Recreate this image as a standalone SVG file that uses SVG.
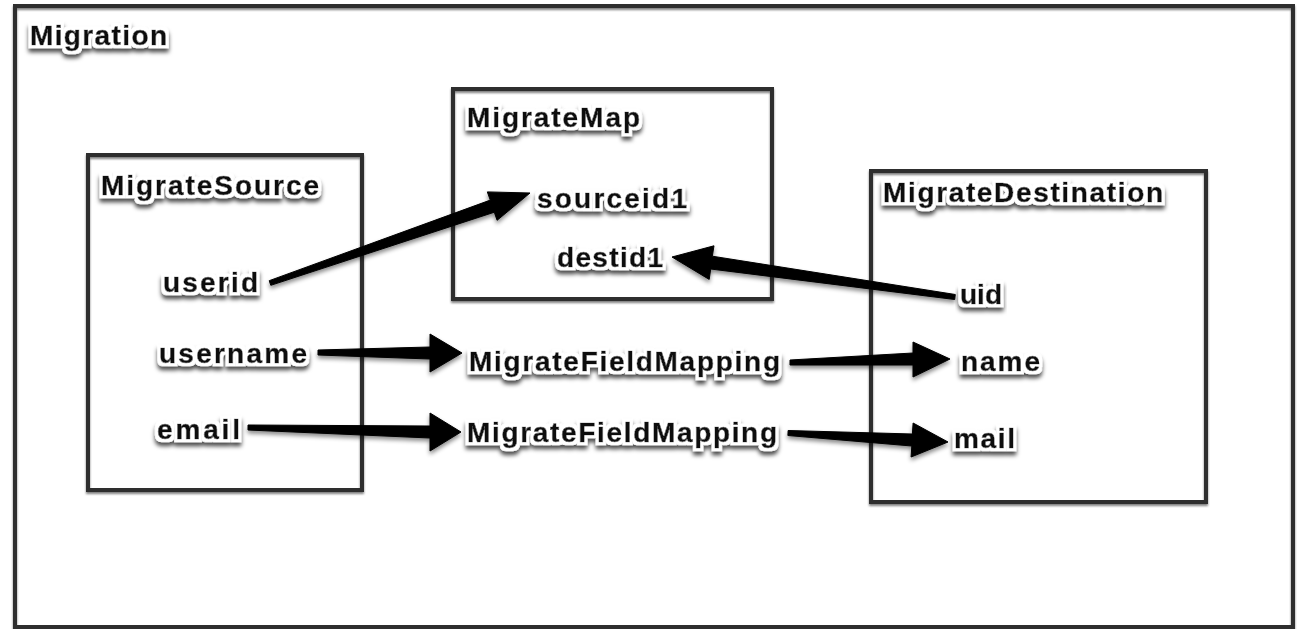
<svg xmlns="http://www.w3.org/2000/svg" width="1297" height="629" viewBox="0 0 1297 629">
  <defs>
    <filter id="halo" x="-10%" y="-40%" width="120%" height="190%">
      <feMorphology in="SourceAlpha" operator="dilate" radius="3" result="d"/>
      <feGaussianBlur in="d" stdDeviation="2.2" result="b"/>
      <feOffset in="b" dx="0" dy="3.5" result="o"/>
      <feFlood flood-color="#000" flood-opacity="0.7"/>
      <feComposite in2="o" operator="in" result="sh"/>
      <feFlood flood-color="#fff"/>
      <feComposite in2="d" operator="in" result="w"/>
      <feGaussianBlur in="SourceGraphic" stdDeviation="0.4" result="sg"/>
      <feMerge>
        <feMergeNode in="sh"/>
        <feMergeNode in="w"/>
        <feMergeNode in="sg"/>
      </feMerge>
    </filter>
    <filter id="boxsh" x="-5%" y="-5%" width="110%" height="110%">
      <feDropShadow dx="0" dy="2" stdDeviation="1.2" flood-color="#000" flood-opacity="0.5"/>
    </filter>
    <filter id="arrsh" x="-10%" y="-30%" width="120%" height="160%">
      <feDropShadow dx="0" dy="3" stdDeviation="2.2" flood-color="#000" flood-opacity="0.45"/>
    </filter>
  </defs>
  <style>
    .box { fill: none; stroke: #2e2e2e; stroke-width: 4; filter: url(#boxsh); }
    .lbl { font-family: "Liberation Sans", Arial, sans-serif; font-weight: bold; font-size: 28px; fill: #111; stroke: #111; stroke-width: 0.6; filter: url(#halo); }
    .arr { fill: #000; stroke: #000; stroke-width: 1; stroke-linejoin: miter; }
  </style>
  <rect width="1297" height="629" fill="#fff"/>

  <g id="migration">
    <rect class="box" x="15" y="6" width="1278" height="621"/>
    <text class="lbl" x="30" y="45" textLength="137" lengthAdjust="spacing">Migration</text>
  </g>

  <g id="migrate-source">
    <rect class="box" x="88" y="155" width="274" height="335"/>
    <text class="lbl" x="101" y="195" textLength="218" lengthAdjust="spacing">MigrateSource</text>
  </g>

  <g id="migrate-map">
    <rect class="box" x="453" y="89" width="319" height="210"/>
    <text class="lbl" x="467" y="127" textLength="173" lengthAdjust="spacing">MigrateMap</text>
  </g>

  <g id="migrate-destination">
    <rect class="box" x="871" y="171" width="335" height="331"/>
    <text class="lbl" x="883" y="202" textLength="280" lengthAdjust="spacing">MigrateDestination</text>
  </g>

  <g id="connectors" filter="url(#arrsh)">
    <polygon class="arr" points="269.2,280.7 490.3,200.1 487.3,191.9 530,193 497.1,220.3 494.3,212.2 270.8,285.3"/>
    <polygon class="arr" points="955.3,294.5 712.3,256.2 714.0,245.8 672,257 709.2,279.4 710.7,269.0 954.7,299.5"/>
    <polygon class="arr" points="318,350 430,347 430,334 462,353 430,372 430,359 318,355"/>
    <polygon class="arr" points="790,360 913,353 913,342 950,359 913,377 913,365 790,365"/>
    <polygon class="arr" points="248,425 430,426 430,413 461,432 430,451 430,438 248,430"/>
    <polygon class="arr" points="788.1,430.5 912.4,434 913.1,423 948,442 911.1,457 911.8,446 787.9,435.5"/>
  </g>

  <g id="field-sourceid1"><text class="lbl" x="537" y="208" textLength="150" lengthAdjust="spacing">sourceid1</text></g>
  <g id="field-destid1"><text class="lbl" x="557" y="267" textLength="106" lengthAdjust="spacing">destid1</text></g>
  <g id="field-userid"><text class="lbl" x="163" y="292" textLength="95" lengthAdjust="spacing">userid</text></g>
  <g id="field-uid"><text class="lbl" x="960" y="304" textLength="42" lengthAdjust="spacing">uid</text></g>
  <g id="field-username"><text class="lbl" x="159" y="363" textLength="148" lengthAdjust="spacing">username</text></g>
  <g id="mapping-1"><text class="lbl" x="469" y="371" textLength="311" lengthAdjust="spacing">MigrateFieldMapping</text></g>
  <g id="field-name"><text class="lbl" x="961" y="371" textLength="79" lengthAdjust="spacing">name</text></g>
  <g id="field-email"><text class="lbl" x="157" y="439" textLength="83" lengthAdjust="spacing">email</text></g>
  <g id="mapping-2"><text class="lbl" x="467" y="442" textLength="310" lengthAdjust="spacing">MigrateFieldMapping</text></g>
  <g id="field-mail"><text class="lbl" x="954" y="448" textLength="61" lengthAdjust="spacing">mail</text></g>
</svg>
